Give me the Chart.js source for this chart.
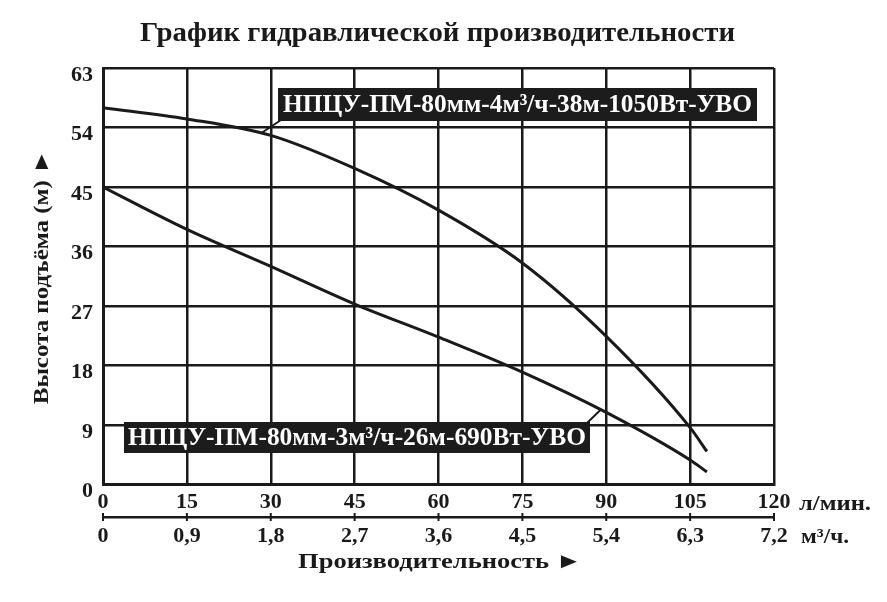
<!DOCTYPE html>
<html>
<head>
<meta charset="utf-8">
<script src="https://cdn.jsdelivr.net/npm/chart.js@4.4.0/dist/chart.umd.min.js"></script>
<style>
  html, body { margin: 0; padding: 0; background: #fff; }
</style>
</head>
<body>
<canvas id="pumpChart" width="887" height="602"></canvas>
<script>
// flow, l/min, and head, m
const flowLpm = [0, 15, 30, 45, 60, 75, 90, 105, 108];
const head1050 = [57, 55.3, 52.8, 47.8, 41.5, 33.5, 22.4, 8.6, 5.0];
const head690 = [45, 38.6, 33.0, 27.3, 22.3, 17.0, 10.9, 3.7, 1.9];

const xTicksLpm = [0, 15, 30, 45, 60, 75, 90, 105, 120];
const xTicksM3h = ['0', '0,9', '1,8', '2,7', '3,6', '4,5', '5,4', '6,3', '7,2'];
const yTicks = [0, 9, 18, 27, 36, 45, 54, 63];

const chartTitle = 'График гидравлической производительности';
const xTitle = 'Производительность ►';
const yTitle = 'Высота подъёма (м) ►';
const unitLpm = 'л/мин.';
const unitM3h = 'м³/ч.';
const label1050 = 'НПЦУ-ПМ-80мм-4м³/ч-38м-1050Вт-УВО';
const label690 = 'НПЦУ-ПМ-80мм-3м³/ч-26м-690Вт-УВО';
// where the leader lines touch the curves (flow, head)
const anchor1050 = [28.4, 53.2];
const anchor690 = [89, 11.3];

const INK = '#1a1a1a';
const SERIF = "'Liberation Serif', 'DejaVu Serif', serif";

function toPoints(ys) {
    return flowLpm.map((x, i) => ({ x: x, y: ys[i] }));
}

// draw text stretched/squeezed to a given width
function fitText(ctx, text, x, baseline, width) {
    const w = ctx.measureText(text).width;
    ctx.save();
    ctx.translate(x, baseline);
    ctx.scale(width / w, 1);
    ctx.fillText(text, 0, 0);
    ctx.restore();
}

function drawTag(ctx, box, text, textPad, baselineOff, from, to) {
    ctx.strokeStyle = INK;
    ctx.lineWidth = 2;
    ctx.beginPath();
    ctx.moveTo(from[0], from[1]);
    ctx.lineTo(to[0], to[1]);
    ctx.stroke();
    ctx.fillStyle = '#1c1c1c';
    ctx.fillRect(box[0], box[1], box[2], box[3]);
    ctx.fillStyle = '#fff';
    ctx.font = 'bold 26px ' + SERIF;
    ctx.textBaseline = 'alphabetic';
    ctx.textAlign = 'left';
    fitText(ctx, text, box[0] + textPad, box[1] + baselineOff, box[2] - 2 * textPad);
}

const extras = {
    id: 'extras',
    afterDraw(chart) {
        const ctx = chart.ctx;
        const x = chart.scales.x, y = chart.scales.y, x2 = chart.scales.x2;
        const area = chart.chartArea;

        ctx.save();
        // little ticks across the second flow axis
        ctx.strokeStyle = INK;
        ctx.lineWidth = 2;
        x2.ticks.forEach((t, i) => {
            const px = x2.getPixelForTick(i);
            ctx.beginPath();
            ctx.moveTo(px, x2.top - 4);
            ctx.lineTo(px, x2.top + 4);
            ctx.stroke();
        });

        ctx.fillStyle = INK;
        ctx.textAlign = 'left';
        ctx.textBaseline = 'alphabetic';

        // title
        ctx.font = 'bold 27px ' + SERIF;
        fitText(ctx, chartTitle, 140, 41, 595);

        // units after the last tick labels
        ctx.font = 'bold 22px ' + SERIF;
        fitText(ctx, unitLpm, 799, 510, 72);
        fitText(ctx, unitM3h, 801, 543, 48);

        // axis titles
        ctx.font = 'bold 22px ' + SERIF;
        fitText(ctx, xTitle, 298, 568, 284);
        ctx.save();
        ctx.translate(48, (area.top + area.bottom) / 2 + 128);
        ctx.rotate(-Math.PI / 2);
        fitText(ctx, yTitle, 0, 0, 255);
        ctx.restore();

        // series tags
        const a1 = [x.getPixelForValue(anchor1050[0]), y.getPixelForValue(anchor1050[1])];
        const a2 = [x.getPixelForValue(anchor690[0]), y.getPixelForValue(anchor690[1])];
        drawTag(ctx, [278, 88, 479, 33], label1050, 5, 24, [281, 120], a1);
        drawTag(ctx, [124, 422, 466, 31], label690, 4, 23, [587, 423], a2);
        ctx.restore();
    }
};

const tickFont = { family: SERIF, size: 22, weight: 'bold' };

new Chart(document.getElementById('pumpChart'), {
    type: 'scatter',
    data: {
        datasets: [
            {
                label: label1050,
                data: toPoints(head1050),
                showLine: true,
                borderColor: INK,
                borderWidth: 3,
                pointRadius: 0,
                cubicInterpolationMode: 'monotone'
            },
            {
                label: label690,
                data: toPoints(head690),
                showLine: true,
                borderColor: INK,
                borderWidth: 3,
                pointRadius: 0,
                cubicInterpolationMode: 'monotone'
            }
        ]
    },
    options: {
        responsive: false,
        animation: false,
        layout: { padding: { left: 0, right: 113, top: 68, bottom: 27.6 } },
        plugins: {
            legend: { display: false },
            tooltip: { enabled: false },
            title: { display: false }
        },
        scales: {
            x: {
                type: 'linear',
                position: 'bottom',
                min: 0, max: 120,
                afterBuildTicks: (s) => { s.ticks = xTicksLpm.map(v => ({ value: v })); },
                afterFit: (s) => { s.height = 32.5; },
                ticks: { color: INK, font: tickFont, padding: 5, maxRotation: 0 },
                grid: { color: INK, lineWidth: 2.5, drawTicks: false },
                border: { color: INK, width: 3 }
            },
            x2: {
                type: 'linear',
                position: 'bottom',
                min: 0, max: 120,
                afterBuildTicks: (s) => { s.ticks = xTicksLpm.map(v => ({ value: v })); },
                afterFit: (s) => { s.height = 57.4; },
                ticks: {
                    color: INK, font: tickFont, padding: 6, maxRotation: 0,
                    callback: (v, i) => xTicksM3h[i]
                },
                grid: { drawOnChartArea: false, drawTicks: false },
                border: { color: INK, width: 2.5 }
            },
            y: {
                type: 'linear',
                min: 0, max: 63,
                afterBuildTicks: (s) => { s.ticks = yTicks.map(v => ({ value: v })); },
                afterFit: (s) => { s.width = 103; },
                ticks: { color: INK, font: tickFont, padding: 10, labelOffset: 7 },
                grid: { color: INK, lineWidth: 2.5, drawTicks: false },
                border: { color: INK, width: 3 }
            }
        }
    },
    plugins: [extras]
});
</script>
</body>
</html>
